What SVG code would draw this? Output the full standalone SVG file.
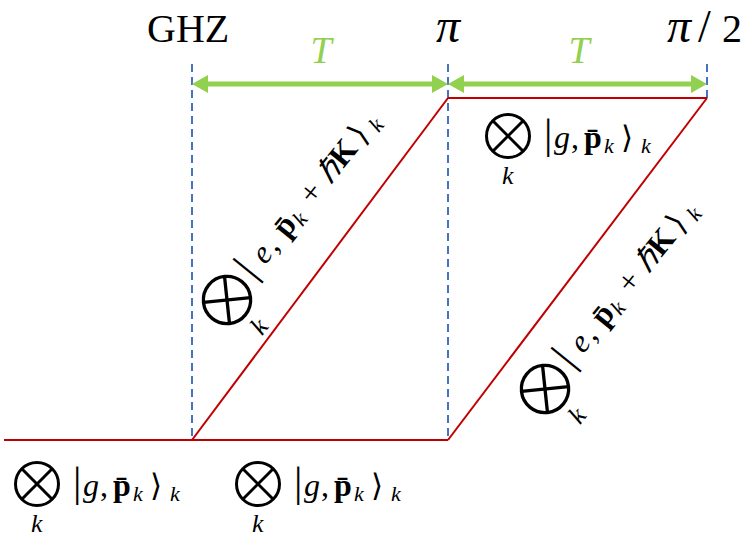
<svg xmlns="http://www.w3.org/2000/svg" xmlns:xlink="http://www.w3.org/1999/xlink" width="747" height="539" viewBox="0 0 747 539">
<style>
.m{font-family:"Liberation Serif",serif;font-size:32px;fill:#000}
.it{font-style:italic}
.bf{font-weight:bold}
.sub{font-size:22px;font-style:italic}
.bar{font-size:42px}
.ang{font-family:"DejaVu Serif",serif;font-size:31px}
.lbl{font-family:"Liberation Serif",serif;font-size:40px;fill:#000}
.pi{font-family:"Liberation Serif",serif;font-size:48px;font-style:italic;fill:#000}
.tlbl{font-family:"Liberation Serif",serif;font-size:38px;font-style:italic;fill:#92d050;text-anchor:middle}
.red{stroke:#c00000;stroke-width:2;fill:none}
.dash{stroke:#4472c4;stroke-width:2;stroke-dasharray:8 5;fill:none}
.grn{stroke:#92d050;stroke-width:5;fill:none}
.op{stroke:#000;stroke-width:3;fill:none}
</style>
<defs>
<marker id="ah" viewBox="0 0 16 18" refX="8" refY="9" markerWidth="16" markerHeight="18" markerUnits="userSpaceOnUse" orient="auto-start-reverse">
<path d="M0,0 L16,9 L0,18 z" fill="#92d050"/>
</marker>
<g id="otimes">
<circle class="op" r="21.5"/>
<line class="op" x1="-15.2" y1="-15.2" x2="15.2" y2="15.2"/>
<line class="op" x1="-15.2" y1="15.2" x2="15.2" y2="-15.2"/>
</g>
<g id="ketg">
<use xlink:href="#otimes" href="#otimes"/>
<text class="m bar" x="36" y="12">|</text>
<text class="m it" x="46" y="12">g</text>
<text class="m" x="63" y="12">,</text>
<text class="m bf" x="76" y="12">p&#x304;</text>
<text class="m sub" x="96" y="17">k</text>
<text class="ang" x="113" y="12">&#x27E9;</text>
<text class="m sub" x="133" y="17">k</text>
<text class="m it" style="font-size:26px" x="-6" y="48">k</text>
</g>
<g id="kete">
<use xlink:href="#otimes" href="#otimes" transform="scale(1.1)"/>
<text class="m bar" x="32" y="8">|</text>
<text class="m it" x="51" y="8">e</text>
<text class="m" x="67" y="8">,</text>
<text class="m bf" x="85" y="8">p&#x304;</text>
<text class="m sub" x="104" y="13">k</text>
<text class="m" x="127" y="8">+</text>
<text class="m it" x="155" y="8">&#x210F;</text>
<text class="m bf" x="175" y="8">K</text>
<text class="ang" x="206" y="8">&#x27E9;</text>
<text class="m sub" x="225" y="13">k</text>
<text class="m it" style="font-size:26px" x="-6" y="50">k</text>
</g>
</defs>
<rect width="747" height="539" fill="#fff"/>
<g id="guides">
<line class="dash" x1="192" y1="64" x2="192" y2="440"/>
<line class="dash" x1="448" y1="64" x2="448" y2="440"/>
<line class="dash" x1="707" y1="64" x2="707" y2="98"/>
</g>
<g id="connectors">
<line class="red" x1="4" y1="440" x2="448" y2="440"/>
<line class="red" x1="192" y1="440" x2="448" y2="98"/>
<line class="red" x1="448" y1="98" x2="707" y2="98"/>
<line class="red" x1="448" y1="440" x2="707" y2="98"/>
<line class="grn" x1="200" y1="84" x2="440" y2="84" marker-start="url(#ah)" marker-end="url(#ah)"/>
<line class="grn" x1="456" y1="84" x2="699" y2="84" marker-start="url(#ah)" marker-end="url(#ah)"/>
</g>
<g id="top-labels">
<text class="lbl" x="147" y="42">GHZ</text>
<text class="pi" x="448" y="42" text-anchor="middle">&#x3C0;</text>
<text class="pi" x="667" y="42">&#x3C0;</text>
<text class="lbl" x="698" y="42" style="font-size:46px">/</text>
<text class="lbl" x="722" y="42">2</text>
<text class="tlbl" x="321" y="63">T</text>
<text class="tlbl" x="579" y="63">T</text>
</g>
<g id="state-ground-left"><use xlink:href="#ketg" href="#ketg" transform="translate(37,484)"/></g>
<g id="state-ground-mid"><use xlink:href="#ketg" href="#ketg" transform="translate(258,484)"/></g>
<g id="state-ground-top"><use xlink:href="#ketg" href="#ketg" transform="translate(508,136)"/></g>
<g id="state-excited-1"><use xlink:href="#kete" href="#kete" transform="translate(227,300) rotate(-51)"/></g>
<g id="state-excited-2"><use xlink:href="#kete" href="#kete" transform="translate(545,389) rotate(-51)"/></g>
</svg>
